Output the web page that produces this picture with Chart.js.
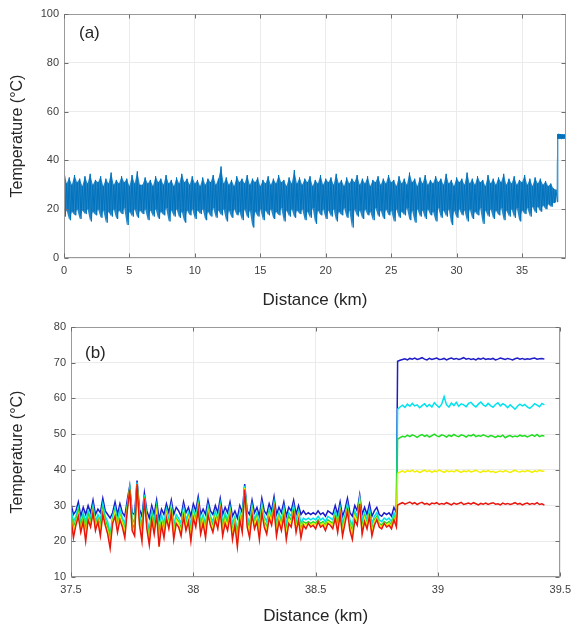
<!DOCTYPE html>
<html><head><meta charset="utf-8">
<script src="https://cdn.jsdelivr.net/npm/chart.js@4.4.1/dist/chart.umd.min.js"></script>
<style>
html,body{margin:0;padding:0;background:#fff;}
#wrap{position:relative;width:577px;height:625px;}
canvas{position:absolute;left:0;}
#ca{top:0;width:577px;height:310px;}
#cb{top:310px;width:577px;height:315px;}
</style></head><body>
<div id="wrap"><canvas id="ca" width="577" height="310"></canvas><canvas id="cb" width="577" height="315"></canvas></div>
<script>
// ---------- Panel (a): full fibre, upper / lower extremes of the noisy trace ----------
const bandStepKm = 0.2;          // sampled every 0.2 km from 0 km
const bandUpper = [
36.5,30.5,33.0,30.0,34.0,31.0,32.5,29.5,33.5,30.5,
34.5,30.0,32.0,31.0,33.5,29.5,32.5,30.5,35.0,30.0,
32.0,30.5,33.5,31.0,32.5,29.5,34.0,30.5,35.5,30.0,
30.0,33.0,30.5,32.0,29.5,33.5,31.0,32.5,30.0,34.0,
30.5,32.0,29.5,33.0,30.5,34.5,31.0,32.5,30.0,33.5,
30.5,32.0,29.5,33.0,30.0,32.5,31.0,34.0,30.0,32.5,
37.5,30.5,33.0,30.0,32.0,29.5,33.5,31.0,32.5,30.5,
34.0,30.0,32.5,31.0,33.0,29.5,32.0,30.5,33.5,30.0,
32.5,30.5,34.0,31.0,32.0,29.5,33.0,30.5,36.0,30.5,
33.0,30.0,32.5,31.0,33.5,29.5,32.0,30.5,34.0,30.0,
32.5,31.0,33.0,30.0,34.5,30.5,32.0,29.5,33.0,30.5,
32.5,31.0,34.0,30.0,32.5,30.5,33.5,29.5,32.0,31.0,
33.5,30.0,32.5,30.5,34.0,31.0,32.0,29.5,33.5,30.5,
32.5,30.0,35.0,31.0,32.5,29.5,33.0,30.5,34.0,30.0,
32.0,30.5,33.5,31.0,32.5,30.0,34.5,30.5,32.0,29.5,
33.0,31.0,32.5,30.0,35.0,30.5,32.5,30.0,33.5,31.0,
32.0,29.5,34.0,30.5,32.5,30.0,33.0,31.0,34.5,30.0,
32.5,30.5,33.5,30.0,32.0,31.0,34.0,30.0,32.5,29.5,
33.0,30.5,32.5,30.0,31.5,29.5,30.5,28.5,28.0
];
const bandLower = [
17.0,19.5,15.5,19.0,17.5,20.0,16.0,19.5,18.0,20.0,
15.0,19.0,17.5,20.0,16.5,19.5,14.5,19.0,17.0,20.0,
16.0,19.5,18.0,20.5,13.5,19.0,17.0,20.0,16.5,19.5,
18.0,20.0,15.5,19.5,17.0,20.0,16.0,19.0,17.5,20.5,
15.0,19.5,17.0,20.0,16.5,19.0,14.5,19.5,17.5,20.0,
16.0,19.5,18.0,20.0,15.5,19.0,17.0,20.5,16.5,19.5,
17.5,20.0,15.0,19.5,16.5,20.0,17.5,19.0,15.5,20.0,
16.5,19.5,12.5,19.0,17.0,20.0,15.5,19.5,17.5,20.0,
16.0,19.0,17.5,20.5,15.0,19.5,17.0,20.0,16.5,19.5,
18.0,20.0,15.5,19.0,16.5,20.5,14.0,19.5,17.5,20.0,
16.0,19.5,17.0,20.0,15.0,19.0,17.5,20.5,16.5,19.5,
12.5,20.0,17.0,19.5,16.0,20.0,17.5,19.0,15.5,20.5,
17.0,19.5,16.0,20.0,17.5,19.5,15.0,20.0,16.5,19.0,
17.5,20.5,15.5,19.5,14.5,20.0,17.0,19.5,16.0,20.0,
17.5,19.0,15.0,20.5,16.5,19.5,17.0,20.0,13.5,19.5,
16.5,20.0,17.5,19.5,15.0,20.0,16.0,19.0,17.5,20.5,
14.0,19.5,17.0,20.0,16.0,19.5,17.5,20.5,15.5,19.5,
17.0,20.0,16.5,20.5,15.0,19.5,18.0,20.5,17.0,21.0,
18.5,21.0,19.0,21.5,20.0,22.0,21.0,22.5,23.0
];
// heated end section of the fibre
const hotStartKm = 37.72, hotStepKm = 0.05;
const hotUpper = [50.8,50.6,50.9,50.7,50.5,50.8,50.6,50.4,50.7,50.5,50.6,50.3,50.5];
const hotLower = [48.8,49.0,48.9,49.2,49.0,48.8,49.1,49.0,48.9,49.2,49.0,48.9,49.1];

// ---------- Panel (b): zoom on the heated section, five temperature settings ----------
const preStartKm = 37.5, jumpKm = 38.835, stepKmB = 0.01;
const redPre = [
26.5,21.0,24.5,27.0,22.5,25.5,20.0,26.0,24.0,28.0,
23.0,25.5,21.5,27.5,24.5,22.0,18.0,25.0,27.0,22.5,
26.0,24.0,21.0,28.5,34.5,23.0,21.5,36.0,24.5,20.0,
32.0,23.5,19.0,26.0,22.0,27.5,18.5,24.5,21.0,26.5,
23.5,28.0,20.5,25.0,24.0,21.5,27.0,23.0,25.5,20.0,
26.5,24.0,29.0,22.0,25.0,21.0,27.5,24.5,22.5,26.0,
23.5,28.5,21.5,25.0,23.0,27.0,20.5,24.5,18.5,26.0,
22.5,34.5,24.0,21.0,27.5,23.5,25.5,20.5,28.0,24.0,
22.0,26.5,24.5,29.0,21.5,25.5,23.0,27.0,20.5,25.0,
24.0,28.0,22.5,26.0,21.0,24.5,23.5,25.0,24.0,24.5,
23.5,25.5,24.0,24.5,23.0,25.0,24.5,23.5,26.5,22.5,
27.5,21.5,25.0,28.5,23.0,20.5,26.0,24.5,30.5,22.0,
25.5,23.5,27.0,21.5,24.5,26.0,24.0,23.5,25.0,24.0,
24.5,23.5,26.0,24.0
];
const redPost = [
30.1,30.5,30.8,30.4,30.7,31.0,30.5,30.8,30.3,30.7,
30.9,30.4,30.6,30.2,30.7,30.5,30.8,30.3,30.6,30.4,
30.8,30.5,30.2,30.7,30.4,30.6,30.9,30.3,30.5,30.7,
30.4,30.8,30.5,30.2,30.6,30.4,30.7,30.3,30.6,30.8,
30.4,30.5,30.2,30.7,30.4,30.6,30.3,30.5,30.8,30.4,
30.6,30.2,30.5,30.7,30.3,30.6,30.4,30.8,30.3,30.5,30.1
];
const yellowPre = [
26.5,23.0,25.0,27.5,23.0,26.0,22.0,26.5,24.5,28.5,
24.0,26.0,23.0,28.0,25.0,23.0,19.5,25.5,28.0,23.5,
27.0,25.0,22.5,29.0,34.5,24.0,22.5,36.0,25.5,21.5,
32.0,24.5,20.0,26.5,23.0,28.0,20.0,25.5,22.5,27.5,
24.5,29.0,22.0,26.0,25.0,22.5,28.0,24.0,26.5,21.5,
27.5,25.0,29.5,23.0,26.0,22.5,28.5,25.5,23.5,27.0,
24.5,29.0,22.5,26.0,24.0,28.0,22.0,25.5,19.5,27.0,
23.5,35.0,25.0,22.5,28.5,24.5,26.5,22.0,29.0,25.0,
23.0,27.5,25.5,29.5,22.5,26.5,24.0,28.0,22.0,26.0,
25.0,28.5,23.5,27.0,22.5,25.0,24.5,25.0,24.5,25.0,
24.5,25.5,24.5,25.0,24.0,25.5,25.0,24.5,27.0,23.5,
28.0,22.5,26.0,29.0,24.0,22.0,27.0,25.5,31.0,23.0,
26.5,24.5,27.5,22.5,25.5,26.5,24.5,24.0,25.0,24.5,
25.0,24.0,26.5,25.0
];
const yellowPost = [
39.0,39.4,39.7,39.3,39.8,39.5,39.9,39.4,39.7,39.2,
39.6,39.9,39.5,39.8,39.3,39.7,39.5,40.0,39.6,39.3,
39.8,39.5,39.7,39.4,39.9,39.6,39.3,39.7,39.5,39.8,
39.4,39.6,39.9,39.5,39.3,39.7,39.5,39.8,39.4,39.6,
39.2,39.5,39.7,39.4,39.8,39.5,39.3,39.6,39.9,39.5,
39.4,39.7,39.5,39.8,39.6,39.3,39.7,39.5,39.9,39.6,39.7
];
const greenPre = [
27.5,24.0,26.0,28.5,24.0,27.0,23.5,27.5,25.5,29.0,
24.5,26.5,24.5,29.0,26.0,24.0,20.5,26.0,28.5,24.0,
27.5,25.5,23.5,29.5,34.5,25.0,23.5,36.0,26.0,23.0,
32.5,25.0,21.5,27.5,24.0,29.0,21.5,26.0,23.5,28.0,
25.0,29.5,23.0,26.5,25.5,23.5,28.5,25.0,27.0,23.0,
28.0,25.5,30.0,24.0,26.5,23.5,29.0,26.0,24.5,27.5,
25.0,29.5,23.5,27.0,25.0,28.5,23.0,26.0,21.0,27.5,
24.5,35.0,26.0,23.5,29.0,25.0,27.0,23.0,29.5,25.5,
24.0,28.0,26.0,30.0,23.5,27.0,25.0,28.5,23.0,27.0,
26.0,29.0,24.5,27.5,23.5,25.5,25.0,25.5,25.0,25.5,
25.0,26.0,25.0,25.5,24.5,26.0,25.5,25.0,27.5,24.5,
28.5,23.5,26.5,29.5,25.0,23.0,27.5,26.0,31.5,24.0,
27.0,25.0,28.0,23.5,26.0,27.0,25.0,24.5,25.5,25.0,
25.5,24.5,27.0,25.5
];
const greenPost = [
48.6,49.0,49.4,49.2,49.7,49.3,49.8,49.5,49.1,49.6,
49.9,49.4,49.7,49.2,49.6,50.0,49.5,49.3,49.8,49.6,
49.2,49.7,49.4,49.9,49.5,49.3,49.8,49.6,49.2,49.7,
49.5,49.9,49.3,49.6,49.4,49.8,49.5,49.2,49.6,49.4,
49.1,49.5,49.3,49.7,49.0,49.4,49.6,49.2,49.5,49.3,
49.7,49.4,49.6,49.2,49.5,49.8,49.4,49.9,49.3,49.6,49.5
];
const cyanPre = [
29.0,25.5,27.0,29.5,25.0,28.0,25.5,28.5,26.5,30.0,
25.5,27.5,26.0,30.5,27.0,25.5,22.0,27.0,29.5,25.5,
29.0,26.5,25.0,30.0,35.0,26.5,25.0,36.5,27.5,24.5,
33.0,26.5,23.0,28.5,25.5,30.0,23.0,27.5,25.0,29.0,
26.0,30.0,24.5,27.5,26.5,25.0,29.5,26.0,28.0,24.5,
29.0,26.5,31.0,25.5,27.5,25.0,30.0,27.0,25.5,28.5,
26.0,30.5,25.0,28.0,26.0,29.5,25.0,27.0,22.5,28.5,
26.0,35.5,27.0,25.0,30.0,26.0,28.0,24.5,30.5,27.0,
25.5,29.0,27.0,31.0,25.0,28.0,26.0,29.5,24.5,28.0,
27.0,30.0,25.5,28.5,25.0,26.5,26.0,26.5,26.0,26.5,
26.0,27.0,26.0,26.5,25.5,27.0,26.5,26.0,28.5,25.5,
29.5,25.0,27.5,30.5,26.0,24.5,28.5,27.0,32.0,25.5,
28.0,26.0,29.0,25.0,27.0,28.0,26.0,25.5,26.5,26.0,
26.5,25.5,28.0,26.5
];
const cyanPost = [
57.0,57.6,58.1,57.5,58.4,57.8,58.6,57.9,58.2,57.4,
58.0,58.5,57.7,58.3,57.6,58.8,58.1,57.5,58.4,60.5,
58.2,57.6,58.7,58.0,58.9,57.8,58.5,58.2,57.7,58.6,
58.9,58.1,57.6,58.4,59.0,58.2,57.8,58.6,58.0,57.5,
58.3,58.8,57.9,58.5,58.1,57.4,58.2,57.6,57.0,57.8,
58.4,57.9,58.3,57.6,57.2,57.8,58.5,58.1,57.7,58.6,58.2
];
const bluePre = [
30.5,27.5,28.5,31.0,27.0,29.5,27.5,30.0,28.0,31.5,
27.5,29.0,28.0,32.0,28.5,27.5,26.5,28.0,31.0,27.5,
30.5,28.0,27.0,31.5,35.5,28.0,27.5,37.0,29.0,27.0,
33.5,28.5,26.5,30.0,27.5,31.5,26.0,29.0,27.5,30.5,
28.0,31.5,27.5,29.5,28.5,27.0,31.0,28.0,29.5,27.0,
30.5,28.5,32.5,27.5,29.0,27.5,31.5,28.5,27.5,30.0,
28.0,32.0,27.5,29.5,28.0,31.0,27.0,28.5,26.5,30.0,
28.0,36.0,28.5,27.5,31.5,28.0,29.5,27.0,32.0,28.5,
27.5,30.5,28.5,32.5,27.5,29.5,28.0,31.0,27.0,29.5,
28.5,31.5,27.5,30.0,27.5,28.5,27.5,28.0,27.5,28.0,
27.5,28.5,27.5,28.0,27.0,28.5,28.0,27.5,30.0,27.5,
31.0,27.0,29.0,32.0,28.0,27.0,30.0,28.5,33.0,27.5,
29.5,27.5,30.5,27.0,28.5,29.5,27.5,27.0,28.0,27.5,
28.0,27.0,29.5,28.0
];
const bluePost = [
70.4,70.7,70.9,71.1,70.8,71.2,71.0,71.3,70.9,71.1,
71.4,71.0,70.8,71.2,70.9,71.1,71.3,70.9,71.0,71.2,
70.8,71.1,71.3,71.0,71.2,70.9,71.1,71.4,71.0,71.2,
70.9,71.1,70.8,71.2,71.0,71.3,70.9,71.1,71.0,71.2,
70.8,71.0,71.3,71.1,70.9,71.2,71.0,70.8,71.1,71.3,
71.0,71.2,70.9,71.1,71.0,71.2,71.3,71.0,71.1,71.2,71.0
];

const xTicksA = {min: 0, max: 38.36, step: 5};
const yTicksA = {min: 0, max: 100, step: 20};
const xTicksB = {min: 37.5, max: 39.5, step: 0.5};
const yTicksB = {min: 10, max: 80, step: 10};

// ---------- build point tables ----------
const r3 = v => Math.round(v * 1000) / 1000;
const distBand = bandUpper.map((_, i) => r3(i * bandStepKm));
const distHot = hotUpper.map((_, k) => r3(hotStartKm + k * hotStepKm));
const distA = distBand.concat(distHot);
const stepsA = distBand.map(() => bandStepKm).concat(distHot.map(() => hotStepKm));
const upperA = bandUpper.concat(hotUpper);
const lowerA = bandLower.concat(hotLower);
// each sample contributes its upper extreme then its lower extreme half a step later
const traceA = [];
distA.forEach((x, i) => {
  traceA.push({x, y: upperA[i]});
  traceA.push({x: r3(x + stepsA[i] / 2), y: lowerA[i]});
});
const toPts = (xs, ys) => ys.map((y, i) => ({x: xs[i], y}));

const distPre = redPre.map((_, i) => r3(preStartKm + i * stepKmB));
const distPost = redPost.map((_, j) => r3(jumpKm + j * stepKmB));
const distB = distPre.concat(distPost);
const seriesB = [
  {pre: redPre, post: redPost, color: '#e8160c'},
  {pre: yellowPre, post: yellowPost, color: '#f2f000'},
  {pre: greenPre, post: greenPost, color: '#1fdc1f'},
  {pre: cyanPre, post: cyanPost, color: '#00e2ee'},
  {pre: bluePre, post: bluePost, color: '#1c1cc8'}
];

// ---------- shared styling ----------
const FF = '"Liberation Sans", Arial, Helvetica, sans-serif';
const frame = {
  id: 'frame',
  afterDraw(chart, args, opts) {
    const {ctx, chartArea: a, scales: {x, y}} = chart;
    ctx.save();
    const L = Math.round(a.left) + 0.5, R = Math.round(a.right) - 0.5;
    const T = Math.round(a.top) + 0.5, B = Math.round(a.bottom) - 0.5;
    ctx.strokeStyle = '#9a9a9a'; ctx.lineWidth = 1;
    ctx.strokeRect(L, T, R - L, B - T);
    ctx.strokeStyle = '#6e6e6e';
    ctx.beginPath();
    x.ticks.forEach(t => {
      const px = Math.round(x.getPixelForValue(t.value)) + 0.5;
      ctx.moveTo(px, B); ctx.lineTo(px, B - 4);
      ctx.moveTo(px, T); ctx.lineTo(px, T + 4);
    });
    y.ticks.forEach(t => {
      const py = Math.round(y.getPixelForValue(t.value)) + 0.5;
      ctx.moveTo(L, py); ctx.lineTo(L + 4, py);
      ctx.moveTo(R, py); ctx.lineTo(R - 4, py);
    });
    ctx.stroke();
    ctx.fillStyle = '#262626';
    ctx.font = '17px ' + FF;
    ctx.textBaseline = 'middle';
    ctx.textAlign = 'left';
    ctx.fillText(opts.label, opts.lx, opts.ly);
    ctx.restore();
  }
};

function xScale(t, h, titlePad) {
  return {
    type: 'linear', min: t.min, max: t.max,
    ticks: {stepSize: t.step, includeBounds: false, padding: 6, color: '#404040',
            font: {size: 11, family: FF}, maxRotation: 0, autoSkip: false,
            callback: v => String(v)},
    grid: {color: '#ebebeb', drawTicks: false},
    border: {display: false},
    title: {display: true, text: 'Distance (km)', color: '#262626',
            font: {size: 17, family: FF, lineHeight: 1}, padding: {top: 0, bottom: titlePad}},
    afterFit(s) { s.height = h; }
  };
}
function yScale(t, w) {
  return {
    type: 'linear', min: t.min, max: t.max,
    ticks: {stepSize: t.step, includeBounds: false, padding: 5, color: '#404040',
            font: {size: 11, family: FF}, callback: v => String(v)},
    grid: {color: '#ebebeb', drawTicks: false},
    border: {display: false},
    title: {display: true, text: 'Temperature (°C)', color: '#262626',
            font: {size: 16, family: FF, lineHeight: 1}, padding: {top: 9.5, bottom: 0}},
    afterFit(s) { s.width = w; }
  };
}

// ---------- chart (a) ----------
new Chart(document.getElementById('ca'), {
  type: 'line',
  data: {
    datasets: [
      {data: traceA, borderColor: '#0072bd', borderWidth: 1, pointRadius: 0, fill: false, tension: 0},
      {data: toPts(distA, upperA), borderWidth: 0, borderColor: 'rgba(0,0,0,0)', pointRadius: 0, fill: false, tension: 0},
      {data: toPts(distA, lowerA), borderWidth: 0, borderColor: 'rgba(0,0,0,0)', pointRadius: 0, fill: '-1',
       backgroundColor: 'rgba(0,114,189,0.85)', tension: 0}
    ]
  },
  options: {
    responsive: false, animation: false, devicePixelRatio: 1,
    layout: {padding: {top: 14, right: 11, left: 0, bottom: 0}},
    plugins: {legend: {display: false}, tooltip: {enabled: false},
              frame: {label: '(a)', lx: 79, ly: 33}},
    scales: {x: xScale(xTicksA, 52, 1), y: yScale(yTicksA, 64)}
  },
  plugins: [frame]
});

// ---------- chart (b) ----------
new Chart(document.getElementById('cb'), {
  type: 'line',
  data: {
    datasets: seriesB.map(s => ({
      data: toPts(distB, s.pre.concat(s.post)), borderColor: s.color, borderWidth: 1.5,
      pointRadius: 0, fill: false, tension: 0
    }))
  },
  options: {
    responsive: false, animation: false, devicePixelRatio: 1,
    layout: {padding: {top: 17, right: 12, left: 0, bottom: 0}},
    plugins: {legend: {display: false}, tooltip: {enabled: false},
              frame: {label: '(b)', lx: 85, ly: 43}},
    scales: {x: xScale(xTicksB, 48, 0), y: yScale(yTicksB, 71)}
  },
  plugins: [frame]
});
</script>
</body></html>
